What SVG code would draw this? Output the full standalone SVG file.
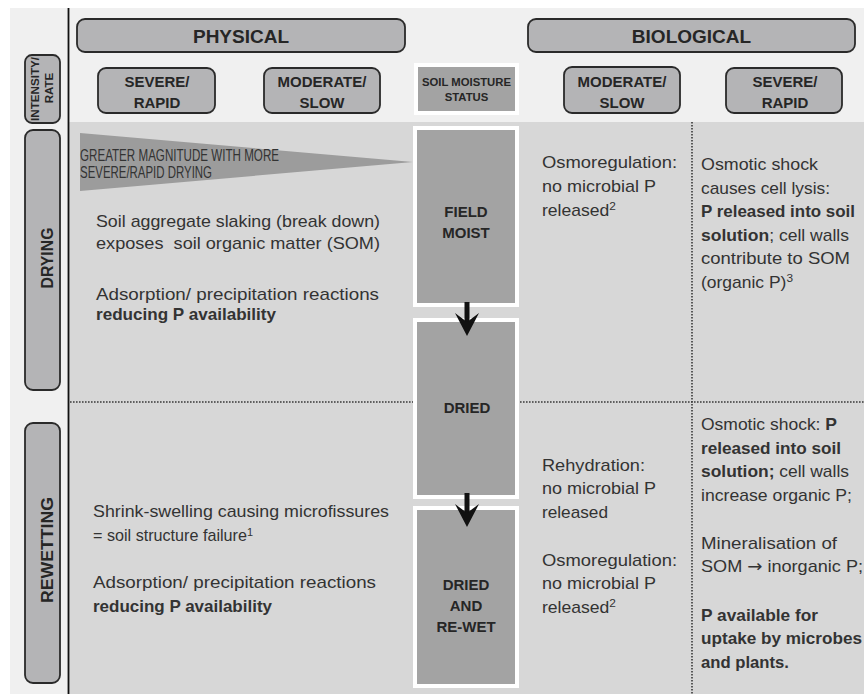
<svg xmlns="http://www.w3.org/2000/svg" width="864" height="694" viewBox="0 0 864 694">
<style>
.hdr{fill:#b4b4b6;stroke:#2a2a2a;stroke-width:1.8}
.mid{fill:#a3a3a3;stroke:#ffffff;stroke-width:4}
.t{font-family:"Liberation Sans",Arial,sans-serif;fill:#333333;font-size:17px}
.b{font-weight:bold}
.lab{font-family:"Liberation Sans",Arial,sans-serif;font-weight:bold;fill:#262626;text-anchor:middle}
.dot{stroke:#3a3a3a;stroke-width:1.6;stroke-dasharray:1.6 1.4;fill:none}
.sup{font-size:11.5px}
</style>
<rect x="0" y="0" width="864" height="694" fill="#ffffff"/>
<rect x="10" y="8" width="854" height="686" fill="#f0f0f0"/>
<rect x="69" y="122" width="795" height="572" fill="#d7d7d7"/>
<line x1="68.5" y1="8" x2="68.5" y2="694" stroke="#111" stroke-width="1.8"/>
<line class="dot" x1="70" y1="402" x2="864" y2="402"/>
<line class="dot" x1="692" y1="122" x2="692" y2="694"/>

<g id="physical"><rect class="hdr" x="77" y="19" width="328" height="33" rx="8"/><text class="lab" x="241" y="43" font-size="19">PHYSICAL</text></g>
<g id="biological"><rect class="hdr" x="528" y="19" width="327" height="33" rx="8"/><text class="lab" x="691.5" y="43" font-size="19">BIOLOGICAL</text></g>
<g id="phys-severe"><rect class="hdr" x="98" y="68" width="117" height="45" rx="8"/><text class="lab" x="157" y="87" font-size="15">SEVERE/</text><text class="lab" x="157" y="107.5" font-size="15">RAPID</text></g>
<g id="phys-moderate"><rect class="hdr" x="264" y="68" width="116" height="45" rx="8"/><text class="lab" x="322" y="87" font-size="15">MODERATE/</text><text class="lab" x="322" y="107.5" font-size="15">SLOW</text></g>
<g id="bio-moderate"><rect class="hdr" x="564" y="67" width="116" height="46" rx="8"/><text class="lab" x="622" y="87" font-size="15">MODERATE/</text><text class="lab" x="622" y="108" font-size="15">SLOW</text></g>
<g id="bio-severe"><rect class="hdr" x="726" y="68" width="116" height="45" rx="8"/><text class="lab" x="785" y="87" font-size="15">SEVERE/</text><text class="lab" x="785" y="108" font-size="15">RAPID</text></g>
<g id="soil-moisture-status"><rect class="mid" x="416" y="65" width="101" height="48"/><text class="lab" x="466.5" y="86" font-size="11.3">SOIL MOISTURE</text><text class="lab" x="466.5" y="101" font-size="11.3">STATUS</text></g>

<g id="intensity"><rect class="hdr" x="25" y="55" width="35" height="68" rx="7"/><text class="lab" font-size="11.5" transform="translate(38.5,89) rotate(-90)" textLength="64" lengthAdjust="spacingAndGlyphs">INTENSITY/</text><text class="lab" font-size="11.5" transform="translate(53,88) rotate(-90)">RATE</text></g>
<g id="drying"><rect class="hdr" x="25" y="130" width="35" height="260" rx="8"/><text class="lab" font-size="17" transform="translate(53,258) rotate(-90)" textLength="61" lengthAdjust="spacingAndGlyphs">DRYING</text></g>
<g id="rewetting"><rect class="hdr" x="25" y="423" width="35" height="260" rx="8"/><text class="lab" font-size="17" transform="translate(53,550) rotate(-90)" textLength="106" lengthAdjust="spacingAndGlyphs">REWETTING</text></g>

<g id="magnitude-wedge"><polygon points="80,133 413,162 80,191" fill="#9c9c9c"/>
<text class="t" x="80" y="160.5" font-size="11" textLength="199" lengthAdjust="spacingAndGlyphs">GREATER MAGNITUDE WITH MORE</text>
<text class="t" x="80" y="177.5" font-size="11" textLength="132" lengthAdjust="spacingAndGlyphs">SEVERE/RAPID DRYING</text></g>

<g id="field-moist"><rect class="mid" x="415" y="128" width="102" height="177"/><text class="lab" x="466" y="217" font-size="15">FIELD</text><text class="lab" x="466" y="238" font-size="15">MOIST</text></g>
<g id="dried"><rect class="mid" x="415" y="320" width="102" height="177"/><text class="lab" x="467" y="413" font-size="15">DRIED</text></g>
<g id="dried-rewet"><rect class="mid" x="415" y="508" width="102" height="178"/><text class="lab" x="466" y="589.5" font-size="15">DRIED</text><text class="lab" x="466" y="610.5" font-size="15">AND</text><text class="lab" x="466" y="632" font-size="15">RE-WET</text></g>

<g id="connectors">
<line x1="467" y1="302" x2="467" y2="326" stroke="#111" stroke-width="5"/>
<polygon points="455,313 467,336 479,313 467,322" fill="#111"/>
<line x1="467" y1="493" x2="467" y2="517" stroke="#111" stroke-width="5"/>
<polygon points="455,504 467,527 479,504 467,513" fill="#111"/>
</g>

<g id="drying-physical">
<text class="t" x="96" y="227" textLength="284" lengthAdjust="spacingAndGlyphs">Soil aggregate slaking (break down)</text>
<text class="t" x="96" y="248.5" textLength="284" lengthAdjust="spacingAndGlyphs">exposes &#160;soil organic matter (SOM)</text>
<text class="t" x="96" y="300" textLength="283" lengthAdjust="spacingAndGlyphs">Adsorption/ precipitation reactions</text>
<text class="t b" x="96" y="320" textLength="180" lengthAdjust="spacingAndGlyphs">reducing P availability</text>
</g>
<g id="drying-bio-moderate">
<text class="t" x="542" y="168" textLength="135" lengthAdjust="spacingAndGlyphs">Osmoregulation:</text>
<text class="t" x="542" y="192" textLength="114" lengthAdjust="spacingAndGlyphs">no microbial P</text>
<text class="t" x="542" y="215.5" textLength="74" lengthAdjust="spacingAndGlyphs">released<tspan class="sup" dy="-6">2</tspan></text>
</g>
<g id="drying-bio-severe">
<text class="t" x="701" y="170" textLength="117" lengthAdjust="spacingAndGlyphs">Osmotic shock</text>
<text class="t" x="701" y="193.5" textLength="129" lengthAdjust="spacingAndGlyphs">causes cell lysis:</text>
<text class="t b" x="701" y="217" textLength="154" lengthAdjust="spacingAndGlyphs">P released into soil</text>
<text class="t" x="701" y="240.5" textLength="148" lengthAdjust="spacingAndGlyphs"><tspan class="b">solution</tspan>; cell walls</text>
<text class="t" x="701" y="264" textLength="149" lengthAdjust="spacingAndGlyphs">contribute to SOM</text>
<text class="t" x="701" y="287.5" textLength="92" lengthAdjust="spacingAndGlyphs">(organic P)<tspan class="sup" dy="-6">3</tspan></text>
</g>

<g id="rewet-physical">
<text class="t" x="93" y="517" textLength="296" lengthAdjust="spacingAndGlyphs">Shrink-swelling causing microfissures</text>
<text class="t" x="93" y="541" textLength="160" lengthAdjust="spacingAndGlyphs">= soil structure failure<tspan class="sup" dy="-5">1</tspan></text>
<text class="t" x="93" y="588" textLength="283" lengthAdjust="spacingAndGlyphs">Adsorption/ precipitation reactions</text>
<text class="t b" x="93" y="612" textLength="179" lengthAdjust="spacingAndGlyphs">reducing P availability</text>
</g>
<g id="rewet-bio-moderate">
<text class="t" x="542" y="470.5" textLength="103" lengthAdjust="spacingAndGlyphs">Rehydration:</text>
<text class="t" x="542" y="494" textLength="114" lengthAdjust="spacingAndGlyphs">no microbial P</text>
<text class="t" x="542" y="518" textLength="66" lengthAdjust="spacingAndGlyphs">released</text>
<text class="t" x="542" y="565.5" textLength="135" lengthAdjust="spacingAndGlyphs">Osmoregulation:</text>
<text class="t" x="542" y="589" textLength="114" lengthAdjust="spacingAndGlyphs">no microbial P</text>
<text class="t" x="542" y="613" textLength="74" lengthAdjust="spacingAndGlyphs">released<tspan class="sup" dy="-6">2</tspan></text>
</g>
<g id="rewet-bio-severe">
<text class="t" x="701" y="430" textLength="136" lengthAdjust="spacingAndGlyphs">Osmotic shock: <tspan class="b">P</tspan></text>
<text class="t b" x="701" y="453.5" textLength="140" lengthAdjust="spacingAndGlyphs">released into soil</text>
<text class="t" x="701" y="477" textLength="148" lengthAdjust="spacingAndGlyphs"><tspan class="b">solution;</tspan> cell walls</text>
<text class="t" x="701" y="501" textLength="151" lengthAdjust="spacingAndGlyphs">increase organic P;</text>
<text class="t" x="701" y="548.5" textLength="136" lengthAdjust="spacingAndGlyphs">Mineralisation of</text>
<text class="t" x="701" y="572" textLength="162" lengthAdjust="spacingAndGlyphs">SOM <tspan font-family="DejaVu Sans, sans-serif">→</tspan> inorganic P;</text>
<text class="t b" x="701" y="620.5" textLength="117" lengthAdjust="spacingAndGlyphs">P available for</text>
<text class="t b" x="701" y="644" textLength="161" lengthAdjust="spacingAndGlyphs">uptake by microbes</text>
<text class="t b" x="701" y="668" textLength="88" lengthAdjust="spacingAndGlyphs">and plants.</text>
</g>
</svg>
